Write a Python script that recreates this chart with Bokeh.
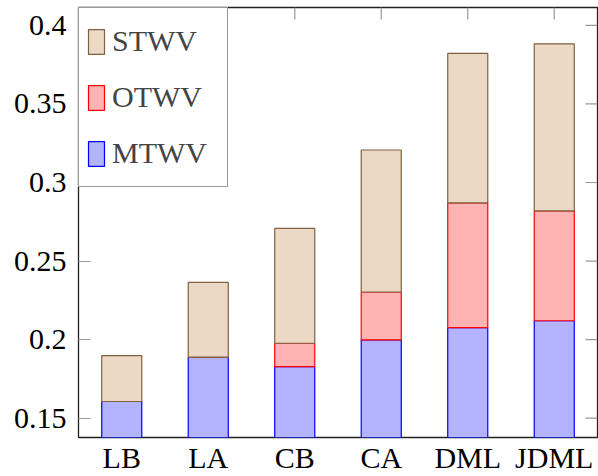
import math
from bokeh.plotting import figure
from bokeh.models import (FactorRange, Range1d, FixedTicker, Legend, LegendItem, ColumnDataSource)
from bokeh.embed import file_html
from bokeh.resources import INLINE

# ---- data ----
methods = ["LB", "LA", "CB", "CA", "DML", "JDML"]
mtwv = [0.1606, 0.1888, 0.1828, 0.1998, 0.2076, 0.2120]
otwv = [0.0, 0.0, 0.0149, 0.0305, 0.0795, 0.0700]
stwv = [0.0292, 0.0476, 0.0731, 0.0904, 0.0951, 0.1063]
series = ["MTWV", "OTWV", "STWV"]
y_ticks = [0.15, 0.2, 0.25, 0.3, 0.35, 0.4]
y_tick_labels = ["0.15", "0.2", "0.25", "0.3", "0.35", "0.4"]

fills = ["#B3B3FF", "#FFB3B3", "#EBD9C6"]
edges = ["#0000FF", "#FF0000", "#806040"]

FONT = "Liberation Serif"
FS = "30px"
TICK_COLOR = "#999999"

Y_MIN, Y_MAX = 0.1377, 0.4114

src = ColumnDataSource(dict(methods=methods, MTWV=mtwv, OTWV=otwv, STWV=stwv))

p = figure(x_range=FactorRange(factors=methods, range_padding=0),
           y_range=Range1d(Y_MIN, Y_MAX),
           frame_width=519, frame_height=430,
           min_border_left=78, min_border_right=1, min_border_top=7, min_border_bottom=39,
           output_backend="svg", toolbar_location=None)

p.xgrid.visible = False
p.ygrid.visible = False
p.outline_line_color = "#222222"
p.outline_line_width = 1.3

rs = p.vbar_stack(series, x="methods", width=0.463, source=src,
                  fill_color=fills, line_color=edges, line_width=1.2)

# inward ticks on the top and right edges (pgfplots style)
n_cats = len(methods)
p.ray(x=methods, y=[Y_MAX] * n_cats, length=12, length_units="screen",
      angle=-math.pi / 2, line_color=TICK_COLOR, line_width=1.2)
p.ray(x=[float(n_cats)] * len(y_ticks), y=y_ticks, length=12, length_units="screen",
      angle=math.pi, line_color=TICK_COLOR, line_width=1.2)

# axes styling
p.yaxis.ticker = FixedTicker(ticks=y_ticks)
p.yaxis.major_label_overrides = {t: l for t, l in zip(y_ticks, y_tick_labels)}
for ax in (p.xaxis[0], p.yaxis[0]):
    ax.axis_line_color = None
    ax.minor_tick_line_color = None
    ax.major_tick_out = 0
    ax.major_tick_in = 12
    ax.major_tick_line_color = TICK_COLOR
    ax.major_tick_line_width = 1.2
    ax.major_label_text_font = FONT
    ax.major_label_text_font_size = FS
    ax.major_label_text_color = "black"
p.xaxis.major_tick_in = 0
p.xaxis.major_label_standoff = 3
p.yaxis.major_label_standoff = 12

legend = Legend(items=[LegendItem(label="STWV", renderers=[rs[2]]),
                       LegendItem(label="OTWV", renderers=[rs[1]]),
                       LegendItem(label="MTWV", renderers=[rs[0]])],
                location="top_left", margin=0, padding=7, spacing=4,
                glyph_width=20, glyph_height=31, label_height=52,
                label_standoff=6, label_width=108,
                label_text_font=FONT, label_text_font_size=FS,
                border_line_color="#333333", border_line_width=1.3,
                background_fill_color="white", background_fill_alpha=1.0)
p.add_layout(legend)

open("out.html", "w").write(file_html(p, INLINE))
